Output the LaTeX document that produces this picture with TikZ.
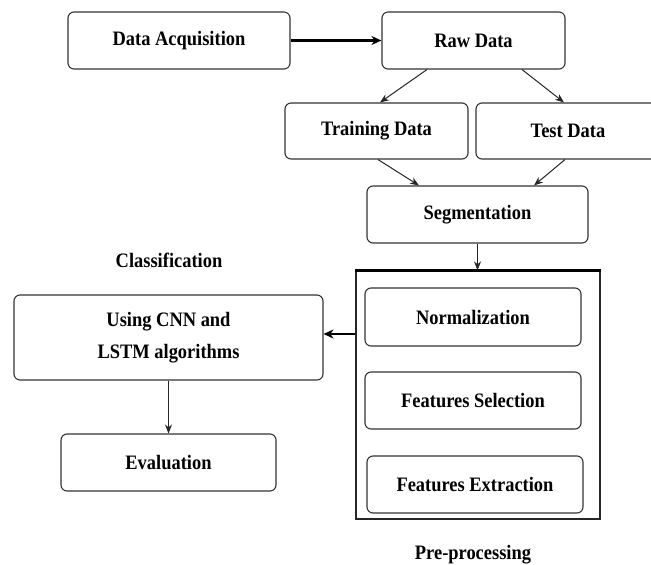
\documentclass[tikz,border=0pt]{standalone}
\usepackage{fontspec}
\setmainfont[FakeStretch=0.9]{Liberation Serif}
\usetikzlibrary{arrows.meta,calc}
\begin{document}
\begin{tikzpicture}[x=1pt,y=-1pt,
  box/.style={draw=black!80,line width=1.1pt,rounded corners=6pt,align=center,inner sep=0pt,font=\rmfamily\bfseries},
  lbl/.style={align=center,inner sep=0pt,font=\rmfamily\bfseries},
  thin/.style={draw=black!85,line width=1pt,-{Stealth[length=9pt,width=7pt]}},
  thick/.style={draw=black,line width=2.4pt,-{Stealth[length=10pt,width=9pt]}}]
\useasboundingbox (0,0) rectangle (651,565);
\fontsize{20.5}{25}\selectfont
\node[box,minimum width=222pt,minimum height=57pt] (da) at (179,40.5) {Data Acquisition};
\node[box,minimum width=183pt,minimum height=57pt] (raw) at (473.5,40.5) {Raw Data};
\node[box,minimum width=183pt,minimum height=56pt] (train) at (376.5,131) {Training Data};
\node[box,minimum width=184pt,minimum height=56pt] (test) at (568,131) {Test Data};
\node[box,minimum width=221pt,minimum height=57pt] (seg) at (477.5,214.5) {Segmentation};
\node[draw=black!85,line width=1.3pt,minimum width=244pt,minimum height=248pt,inner sep=0pt] (pre) at (478,395) {};
\draw[black,line width=2.6pt] (pre.north west) -- (pre.north east);
\node[box,minimum width=216pt,minimum height=58pt] (norm) at (473,317) {Normalization};
\node[box,minimum width=216pt,minimum height=57pt] (fsel) at (473,400.5) {Features Selection};
\node[box,minimum width=216pt,minimum height=57pt] (fext) at (475,484.5) {Features Extraction};
\node[box,minimum width=309pt,minimum height=85pt] (cnn) at (168.5,337.5) {Using CNN and\\[7pt]LSTM algorithms};
\node[box,minimum width=215pt,minimum height=57pt] (eval) at (168.5,462.5) {Evaluation};
\node[lbl] (cls) at (169,260) {Classification};
\node[lbl] (pp) at (473,555) {Pre-processing};
\draw[thick] (da.east) -- (raw.west);
\draw[thin] ([xshift=-46.5pt]raw.south) -- ([xshift=3.5pt]train.north);
\draw[thin] ([xshift=48.5pt]raw.south) -- ([xshift=-4pt]test.north);
\draw[thin] ([xshift=1.5pt]train.south) -- ([xshift=-58.5pt]seg.north);
\draw[thin] ([xshift=-3pt]test.south) -- ([xshift=56.5pt]seg.north);
\draw[thin] (seg.south) -- (seg.south |- pre.north);
\coordinate (cin) at ([yshift=3.5pt]cnn.east);
\draw[thick] (pre.west |- cin) -- (cin);
\draw[thin] (cnn.south) -- (eval.north);
\end{tikzpicture}
\end{document}
